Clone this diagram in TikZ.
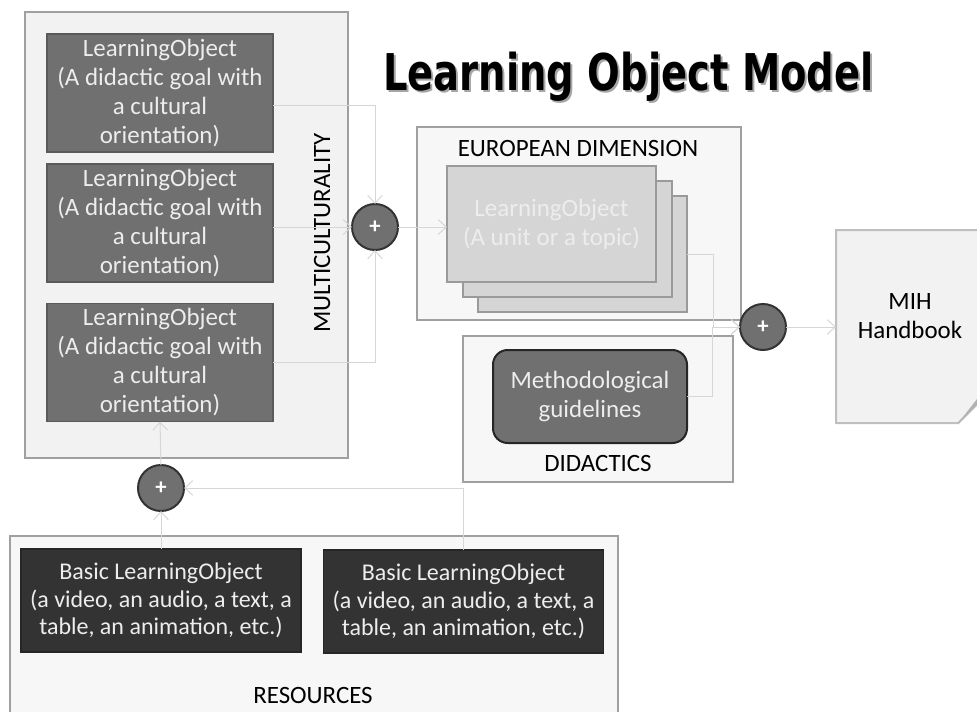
\documentclass[tikz,border=0pt]{standalone}
\usepackage{fontspec}
\setmainfont{Carlito}
\newfontfamily\titlefont{DejaVu Sans}
\usetikzlibrary{arrows.meta}

\definecolor{paneBack}{HTML}{F2F2F2}
\definecolor{paneLight}{HTML}{F7F7F7}
\definecolor{paneLine}{HTML}{A0A0A0}
\definecolor{loFill}{HTML}{707070}
\definecolor{loLine}{HTML}{5A5A5A}
\definecolor{stackFill}{HTML}{D5D5D5}
\definecolor{stackLine}{HTML}{9A9A9A}
\definecolor{darkFill}{HTML}{333333}
\definecolor{lightText}{HTML}{EDEDED}
\definecolor{linkGray}{HTML}{D6D6D6}

\newcommand{\boxfont}{\fontsize{18.7}{21.75}\selectfont}
\newcommand{\titletext}{\scalebox{0.76}[1]{\titlefont\fontsize{38}{44}\selectfont\bfseries Learning Object Model}}

\begin{document}
\begin{tikzpicture}[x=0.75pt,y=-0.75pt,
    pane/.style={draw=paneLine, fill=paneBack, line width=1.5pt, inner sep=0pt, outer sep=0pt},
    loBox/.style={draw=loLine, fill=loFill, line width=1.2pt, text=lightText, align=center,
      inner sep=0pt, outer sep=0pt, minimum width=169.5pt, minimum height=88.5pt, font=\boxfont},
    stackBox/.style={draw=stackLine, fill=stackFill, line width=1.5pt, inner sep=0pt, outer sep=0pt,
      minimum width=156.75pt, minimum height=87pt},
    basicBox/.style={draw=black!85, fill=darkFill, line width=1.2pt, text=lightText, align=center,
      inner sep=0pt, outer sep=0pt, minimum width=210pt, minimum height=77.25pt,
      font=\fontsize{18}{20.5}\selectfont},
    plus/.style={circle, draw=black!80, fill=loFill, line width=1.5pt, text=white, inner sep=0pt,
      outer sep=0pt, minimum size=34.5pt, font=\fontsize{17}{17}\selectfont\bfseries},
    link/.style={draw=linkGray, line width=0.75pt, -{Straight Barb[length=6pt,width=11pt]}}]
\useasboundingbox (0,0) rectangle (977,711);

% containers
\node[pane, minimum width=242.25pt, minimum height=334.5pt] (multi) at (186.5,235) {};
\node[pane, fill=paneLight, minimum width=243pt, minimum height=144.75pt] (euro) at (579,223.5) {};
\node[pane, fill=paneLight, minimum width=202.5pt, minimum height=109.5pt] (didact) at (598,409) {};
\node[pane, fill=paneLight, minimum width=456pt, minimum height=138pt] (resources) at (314,628) {};

% title
\node[text=black!35] (titleShadow) at (630.5,78.5) {\titletext};
\node (title) at (628.5,76.5) {\titletext};

% multiculturality
\node[loBox] (lo1) at (160,93) {LearningObject\\(A didactic goal with\\a cultural\\orientation)};
\node[loBox] (lo2) at (160,223) {LearningObject\\(A didactic goal with\\a cultural\\orientation)};
\node[loBox] (lo3) at (160,362.5) {LearningObject\\(A didactic goal with\\a cultural\\orientation)};
\node[rotate=90, font=\boxfont] (multiLbl) at (322,233) {MULTICULTURALITY};
\node[plus] (plusA) at (375,227) {+};

% european dimension
\node[font=\boxfont] (euroLbl) at (578,148) {EUROPEAN DIMENSION};
\node[stackBox] (stackC) at (582.5,254) {};
\node[stackBox] (stackB) at (567,239) {};
\node[stackBox, text=lightText, align=center, font=\boxfont] (stackA) at (551.5,224)
  {LearningObject\\(A unit or a topic)};

% didactics
\node[draw=black!85, fill=loFill, line width=1.5pt, rounded corners=11pt, text=lightText,
  align=center, inner sep=0pt, outer sep=0pt, minimum width=145.5pt, minimum height=69.75pt,
  font=\boxfont] (method) at (590,396.5) {Methodological\\guidelines};
\node[font=\boxfont] (didactLbl) at (598,463) {DIDACTICS};

% handbook
\node[plus] (plusB) at (763,327) {+};
\node[inner sep=0pt, outer sep=0pt, minimum width=111.75pt, minimum height=144.75pt] (mih) at (910.5,326.5) {};
\draw[draw=black!25, fill=paneBack, line width=1.5pt] (mih.north west) -- (mih.north east)
  -- ([yshift=20pt]mih.south east) -- ([xshift=-20pt]mih.south east) -- (mih.south west) -- cycle;
\fill[black!30] ([xshift=-20pt]mih.south east) -- ([xshift=-6pt,yshift=18pt]mih.south east)
  -- ([yshift=20pt]mih.south east) -- cycle;
\node[align=center, font=\boxfont] (mihLbl) at (910,316) {MIH\\Handbook};

% resources
\node[basicBox] (basic1) at (161,600.5) {Basic LearningObject\\(a video, an audio, a text, a\\table, an animation, etc.)};
\node[basicBox] (basic2) at (463.5,601.5) {Basic LearningObject\\(a video, an audio, a text, a\\table, an animation, etc.)};
\node[font=\boxfont] (resLbl) at (313,695) {RESOURCES};
\node[plus] (plusC) at (161,488) {+};

% connectors
\draw[link] ([yshift=-9pt]lo1.east) -| (plusA.north);
\draw[link] (lo2.east |- plusA.west) -- (plusA.west);
\draw[link] (lo3.east) -| (plusA.south);
\draw[link] (plusA.east) -- (plusA.east -| stackA.west);
\draw[link] (stackC.east) -- ++(26,0) |- (plusB.west);
\draw[link] (method.east) -- ++(25,0) |- (plusB.west);
\draw[link] (plusB.east) -- (plusB.east -| mih.west);
\draw[link] (basic1.north) -- (plusC.south);
\draw[link] (plusC.north) -- (lo3.south);
\draw[link] (basic2.north) |- (plusC.east);
\end{tikzpicture}
\end{document}
